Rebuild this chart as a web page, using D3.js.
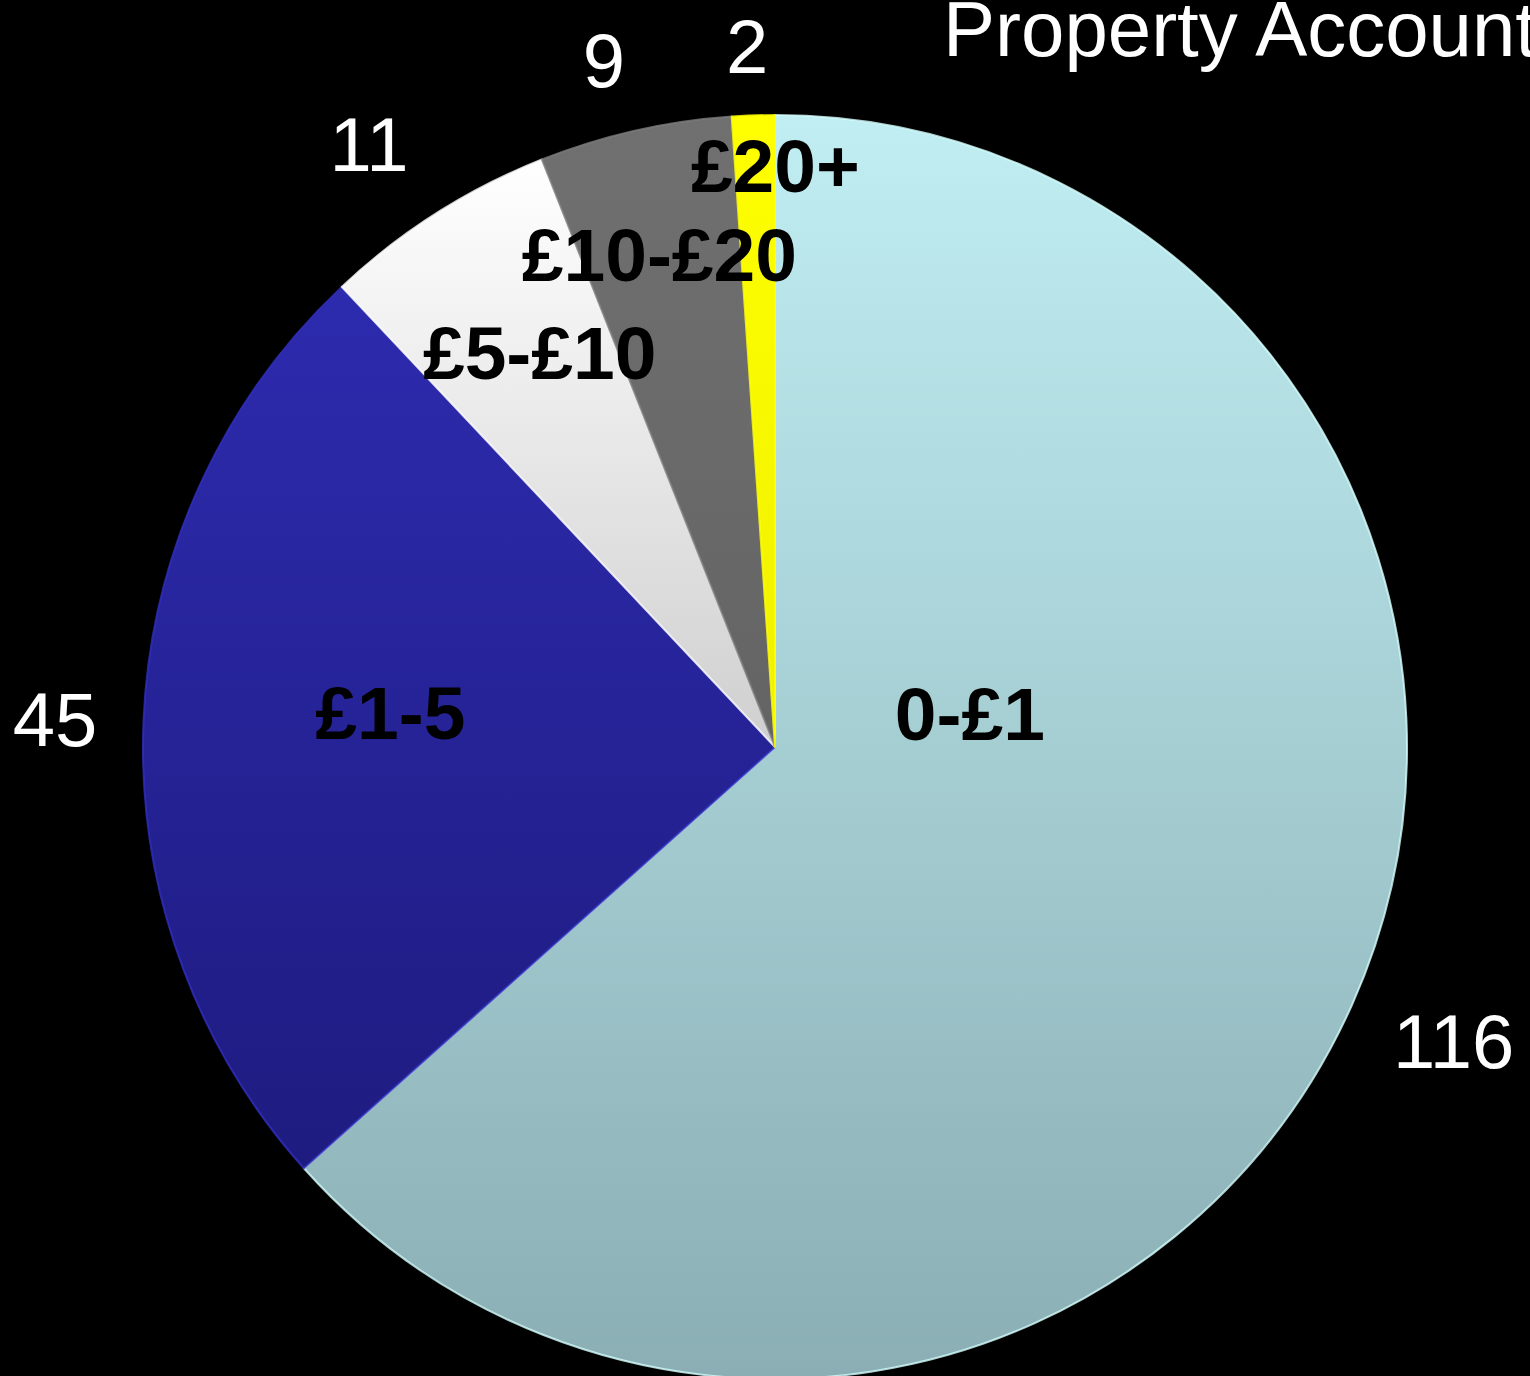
<!DOCTYPE html>
<html>
<head>
<meta charset="utf-8">
<script src="https://cdn.jsdelivr.net/npm/d3@7"></script>
<style>
  html, body { margin: 0; padding: 0; background: #000; overflow: hidden; }
  svg { display: block; }
</style>
</head>
<body>
<div id="chart"></div>
<script>
// data
const categories = ["0-£1", "£1-5", "£5-£10", "£10-£20", "£20+"];
const counts = [116, 45, 11, 9, 2];
const title = "Property Account";

// slice styling (top colour, bottom colour)
const topColors = ["#c0eef2", "#2d2bae", "#ffffff", "#707070", "#ffff00"];
const bottomColors = ["#8aaeb4", "#1e1b80", "#cfcfcf", "#646464", "#f0f000"];
// in-slice labels: fraction of radius, angle shift (deg)
const labelRadius = [0.313, 0.611, 0.728, 0.802, 0.921];
const labelShift = [-34, 2.7, 1.7, -0.4, 2];
// value labels outside: fraction of radius, angle shift (deg)
const valueRadius = [1.17, 1.14, 1.15, 1.12, 1.11];
const valueShift = [-0.7, -0.2, -1.5, -1.2, -0.3];

const W = 1530, H = 1376;
const cx = 775, cy = 747, r = 632;
const rad = Math.PI / 180;

const svg = d3.select("#chart").append("svg").attr("width", W).attr("height", H);
svg.append("rect").attr("width", W).attr("height", H).attr("fill", "#000");

const defs = svg.append("defs");
categories.forEach((c, i) => {
  const g = defs.append("linearGradient").attr("id", "grad" + i)
    .attr("x1", 0).attr("x2", 0).attr("y1", 0).attr("y2", 1);
  g.append("stop").attr("offset", "0%").attr("stop-color", topColors[i]);
  g.append("stop").attr("offset", "100%").attr("stop-color", bottomColors[i]);
});

const data = categories.map((c, i) => ({ cat: c, value: counts[i], i }));
const pie = d3.pie().value((d) => d.value).sort(null);
const arcs = pie(data);
const arc = d3.arc().innerRadius(0).outerRadius(r);
const mid = (d) => (d.startAngle + d.endAngle) / 2;

const g = svg.append("g").attr("transform", `translate(${cx},${cy})`);

g.selectAll("path.slice").data(arcs).enter().append("path")
  .attr("class", "slice")
  .attr("d", arc)
  .attr("fill", (d) => `url(#grad${d.data.i})`)
  .attr("stroke", (d) => d3.color(topColors[d.data.i]).brighter(0.3))
  .attr("stroke-opacity", 0.8)
  .attr("stroke-width", 2)
  .attr("stroke-linejoin", "round");

// value labels outside
g.selectAll("text.val").data(arcs).enter().append("text")
  .attr("class", "val")
  .attr("font-family", "Liberation Sans, Arial, sans-serif")
  .attr("font-size", 76)
  .attr("fill", "#fff")
  .attr("text-anchor", "middle")
  .attr("x", (d) => Math.sin(mid(d) + valueShift[d.data.i] * rad) * r * valueRadius[d.data.i])
  .attr("y", (d) => -Math.cos(mid(d) + valueShift[d.data.i] * rad) * r * valueRadius[d.data.i] + 27)
  .text((d) => d.data.value);

// category labels inside
g.selectAll("text.cat").data(arcs).enter().append("text")
  .attr("class", "cat")
  .attr("font-family", "Liberation Sans, Arial, sans-serif")
  .attr("font-size", 75)
  .attr("font-weight", "bold")
  .attr("fill", "#000")
  .attr("text-anchor", "middle")
  .attr("x", (d) => Math.sin(mid(d) + labelShift[d.data.i] * rad) * r * labelRadius[d.data.i])
  .attr("y", (d) => -Math.cos(mid(d) + labelShift[d.data.i] * rad) * r * labelRadius[d.data.i] + 27)
  .text((d) => d.data.cat);

// title (runs off the right edge, as in the original)
svg.append("text")
  .attr("x", 943).attr("y", 56)
  .attr("font-family", "Liberation Sans, Arial, sans-serif")
  .attr("font-size", 78)
  .attr("fill", "#fff")
  .text(title);
</script>
</body>
</html>
